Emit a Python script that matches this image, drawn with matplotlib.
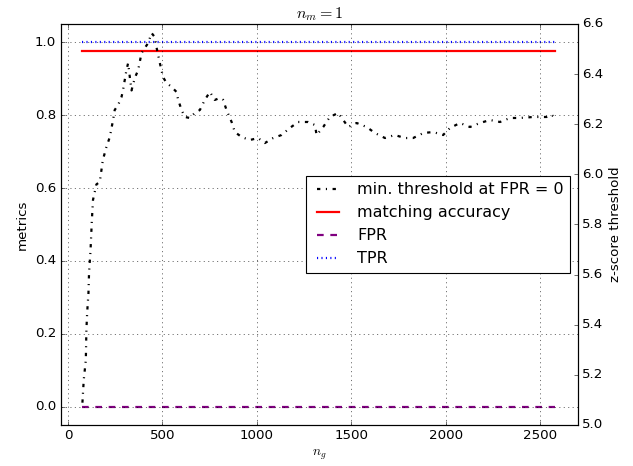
import numpy as np
import matplotlib
matplotlib.use("Agg")
import matplotlib.pyplot as plt

plt.style.use("classic")

# gallery size n_g and the z-score threshold needed to get FPR = 0
ng = [76, 83, 94, 97, 101, 108, 111, 119, 126, 132, 150, 168, 184, 203, 221,
      238, 247, 265, 283, 291, 309, 318, 327, 336, 353, 371, 389, 406, 424,
      442, 459, 468, 486, 503, 521, 548, 574, 583, 601, 618, 645, 671, 698,
      724, 751, 777, 804, 821, 839, 866, 883, 919, 962, 1006, 1042, 1086,
      1130, 1174, 1218, 1271, 1307, 1316, 1351, 1386, 1430, 1457, 1483,
      1528, 1581, 1625, 1678, 1730, 1783, 1827, 1881, 1933, 1986, 2022,
      2075, 2128, 2181, 2234, 2287, 2340, 2393, 2463, 2534, 2561, 2580]
zthresh = [5.089, 5.180, 5.259, 5.379, 5.447, 5.527, 5.606, 5.698, 5.818,
           5.898, 5.960, 5.970, 6.057, 6.109, 6.149, 6.216, 6.257, 6.277,
           6.309, 6.336, 6.416, 6.444, 6.388, 6.335, 6.384, 6.416, 6.484,
           6.504, 6.524, 6.564, 6.548, 6.508, 6.444, 6.388, 6.365, 6.349,
           6.329, 6.297, 6.257, 6.229, 6.225, 6.245, 6.257, 6.297, 6.329,
           6.297, 6.305, 6.297, 6.257, 6.209, 6.169, 6.149, 6.137, 6.145,
           6.125, 6.145, 6.157, 6.185, 6.209, 6.209, 6.197, 6.157, 6.189,
           6.229, 6.245, 6.217, 6.189, 6.205, 6.189, 6.165, 6.145, 6.157,
           6.145, 6.145, 6.165, 6.169, 6.157, 6.185, 6.205, 6.189, 6.205,
           6.217, 6.209, 6.225, 6.225, 6.229, 6.229, 6.237, 6.225]

# metrics are constant over n_g
ng_range = [75, 2580]
accuracy = 0.975
fpr = 0.0
tpr = 1.0

fig = plt.figure(figsize=(633 / 80.0, 466 / 80.0), dpi=80)
ax = fig.add_axes([0.0956, 0.088, 0.8175, 0.8605])
ax2 = ax.twinx()

l1, = ax2.plot(ng, zthresh, "k-.", lw=2, label="min. threshold at FPR = 0")
l2, = ax.plot(ng_range, [accuracy, accuracy], "r-", lw=2, label="matching accuracy")
l3, = ax.plot(ng_range, [fpr, fpr], "--", color="purple", lw=2, label="FPR")
l4, = ax.plot(ng_range, [tpr, tpr], ":", color="blue", lw=2, label="TPR")

ax.set_xlim(-40, 2700)
ax.set_ylim(-0.05, 1.05)
ax2.set_ylim(5.0, 6.6)
ax.grid(True)

ax.set_xlabel("$n_g$")
ax.set_ylabel("metrics")
ax2.set_ylabel("z-score threshold")
ax.set_title("$n_m = 1$")

lines = [l1, l2, l3, l4]
ax2.legend(lines, [l.get_label() for l in lines], loc="center right")

fig.savefig("out.png", dpi=80)
